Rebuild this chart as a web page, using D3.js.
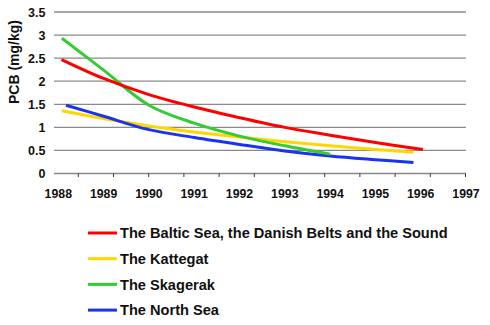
<!DOCTYPE html>
<html><head><meta charset="utf-8">
<script src="https://cdn.jsdelivr.net/npm/d3@7"></script>
<style>body{margin:0;background:#fff}svg{display:block}</style>
</head><body>
<svg id="c" width="490" height="325"></svg>
<script>
const seriesNames = ["The Baltic Sea, the Danish Belts and the Sound","The Kattegat","The Skagerak","The North Sea"];
const seriesColors = ["#ff0000","#ffd700","#33cc33","#1a33ee"];
const balticYears = [1988.07,1989,1990,1991,1992,1993,1994,1995,1996.05];
const balticValues = [2.47,2.06,1.71,1.44,1.21,1.00,0.83,0.67,0.52];
const kattegatYears = [1988.08,1989,1990,1991,1992,1993,1994,1995,1995.84];
const kattegatValues = [1.36,1.19,1.03,0.90,0.79,0.69,0.60,0.52,0.46];
const skagerakYears = [1988.08,1989,1990,1991,1992,1993,1994.0];
const skagerakValues = [2.93,2.24,1.48,1.09,0.81,0.60,0.42];
const northSeaYears = [1988.17,1989,1990,1991,1992,1993,1994,1995,1995.84];
const northSeaValues = [1.48,1.24,0.95,0.78,0.63,0.49,0.38,0.30,0.24];
const yTicks = [0,0.5,1,1.5,2,2.5,3,3.5];
const yTickLabels = ["0","0.5","1","1.5","2","2.5","3","3.5"];
const xTickLabels = [1988,1989,1990,1991,1992,1993,1994,1995,1996,1997];
const yLabel = "PCB (mg/kg)";

const svg = d3.select("#c");
const x = d3.scaleLinear().domain([1988,1997]).range([58.3,466]);
const y = d3.scaleLinear().domain([0,3.5]).range([173.5,12]);
const minor = d3.scaleLinear().domain([0,11]).range([78.3,465.5]);
const plotLeft = 54, plotRight = 466;
const font = "Liberation Sans, Arial, sans-serif";

// gridlines
svg.append("g").selectAll("line").data(yTicks.filter(d=>d>0)).join("line")
  .attr("x1",plotLeft).attr("x2",plotRight)
  .attr("y1",d=>y(d)).attr("y2",d=>y(d))
  .attr("stroke","#8a8a8a").attr("stroke-width",1.3);

// x axis line
svg.append("line").attr("x1",plotLeft).attr("x2",plotRight)
  .attr("y1",y(0)).attr("y2",y(0)).attr("stroke","#888").attr("stroke-width",1.6);
svg.append("g").selectAll("line").data(d3.range(12)).join("line")
  .attr("x1",d=>minor(d)).attr("x2",d=>minor(d))
  .attr("y1",y(0)).attr("y2",y(0)+3.5)
  .attr("stroke","#333").attr("stroke-width",1);

// y tick labels
svg.append("g").selectAll("text").data(yTicks).join("text")
  .attr("x",45.5).attr("y",d=>y(d)).attr("dy","0.36em")
  .attr("text-anchor","end")
  .attr("font-family",font).attr("font-weight","bold")
  .attr("font-size",12.5).attr("fill","#111")
  .text((d,i)=>yTickLabels[i]);

// x tick labels
svg.append("g").selectAll("text").data(xTickLabels).join("text")
  .attr("x",d=>x(d)).attr("y",197.5)
  .attr("text-anchor","middle")
  .attr("font-family",font).attr("font-weight","bold")
  .attr("font-size",12.3).attr("fill","#111")
  .text(d=>d);

// y axis label
svg.append("text").attr("transform","translate(19,62) rotate(-90)")
  .attr("text-anchor","middle")
  .attr("font-family",font).attr("font-weight","bold")
  .attr("font-size",14).attr("fill","#111").text(yLabel);

// series
const series = [
  {years:balticYears, values:balticValues},
  {years:kattegatYears, values:kattegatValues},
  {years:skagerakYears, values:skagerakValues},
  {years:northSeaYears, values:northSeaValues}
];
const line = d3.line().x(d=>x(d[0])).y(d=>y(d[1])).curve(d3.curveCatmullRom.alpha(0.5));
const drawOrder = [1,3,2,0];
drawOrder.forEach(i=>{
  const s = series[i];
  svg.append("path").datum(s.years.map((yr,k)=>[yr,s.values[k]]))
    .attr("d",line).attr("fill","none")
    .attr("stroke",seriesColors[i]).attr("stroke-width",3)
    .attr("stroke-linecap","butt").attr("stroke-linejoin","round");
});

// legend
const lg = svg.append("g");
seriesNames.forEach((n,i)=>{
  const cy = 233 + i*25.7;
  lg.append("line").attr("x1",88).attr("x2",117).attr("y1",cy).attr("y2",cy)
    .attr("stroke",seriesColors[i]).attr("stroke-width",3);
  lg.append("text").attr("x",120).attr("y",cy).attr("dy","0.36em")
    .attr("font-family",font).attr("font-weight","bold")
    .attr("font-size",14.6).attr("fill","#111").text(n);
});
</script>
</body></html>
